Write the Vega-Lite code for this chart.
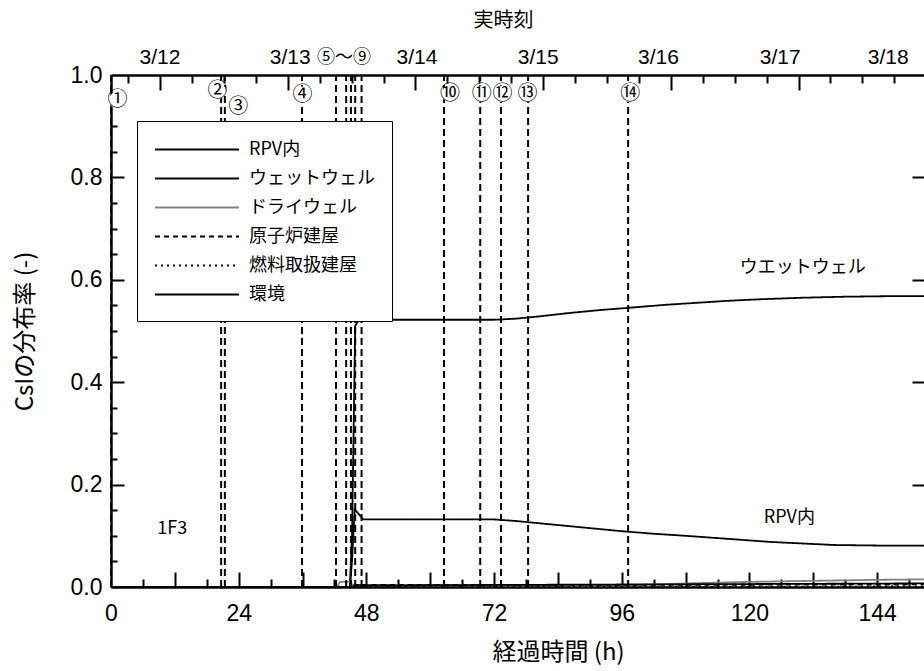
{
  "$schema": "https://vega.github.io/schema/vega-lite/v6.json",
  "width": 814,
  "height": 512,
  "autosize": "none",
  "padding": {"left": 111, "top": 75, "right": 0, "bottom": 84},
  "background": "white",
  "config": {"view": {"stroke": null}, "font": "Liberation Sans"},
  "datasets": {
    "series": [
      {"s": "RPV内", "h": 0, "v": 0}, {"s": "RPV内", "h": 44.9, "v": 0}, {"s": "RPV内", "h": 45.3, "v": 0.05}, {"s": "RPV内", "h": 45.8, "v": 0.152}, {"s": "RPV内", "h": 47.4, "v": 0.132}, {"s": "RPV内", "h": 60, "v": 0.132}, {"s": "RPV内", "h": 72, "v": 0.132}, {"s": "RPV内", "h": 76, "v": 0.129}, {"s": "RPV内", "h": 80, "v": 0.125}, {"s": "RPV内", "h": 86, "v": 0.119}, {"s": "RPV内", "h": 92, "v": 0.113}, {"s": "RPV内", "h": 96, "v": 0.109}, {"s": "RPV内", "h": 102, "v": 0.104}, {"s": "RPV内", "h": 108, "v": 0.1}, {"s": "RPV内", "h": 116, "v": 0.094}, {"s": "RPV内", "h": 124, "v": 0.088}, {"s": "RPV内", "h": 130, "v": 0.085}, {"s": "RPV内", "h": 136, "v": 0.082}, {"s": "RPV内", "h": 144, "v": 0.081}, {"s": "RPV内", "h": 153, "v": 0.081},
      {"s": "ウェットウェル", "h": 0, "v": 0}, {"s": "ウェットウェル", "h": 44.9, "v": 0}, {"s": "ウェットウェル", "h": 45.3, "v": 0.1}, {"s": "ウェットウェル", "h": 45.9, "v": 0.51}, {"s": "ウェットウェル", "h": 46.5, "v": 0.52}, {"s": "ウェットウェル", "h": 47.4, "v": 0.522}, {"s": "ウェットウェル", "h": 60, "v": 0.522}, {"s": "ウェットウェル", "h": 72, "v": 0.522}, {"s": "ウェットウェル", "h": 76, "v": 0.524}, {"s": "ウェットウェル", "h": 80, "v": 0.528}, {"s": "ウェットウェル", "h": 86, "v": 0.535}, {"s": "ウェットウェル", "h": 92, "v": 0.541}, {"s": "ウェットウェル", "h": 97, "v": 0.545}, {"s": "ウェットウェル", "h": 104, "v": 0.551}, {"s": "ウェットウェル", "h": 110, "v": 0.555}, {"s": "ウェットウェル", "h": 116, "v": 0.559}, {"s": "ウェットウェル", "h": 122, "v": 0.562}, {"s": "ウェットウェル", "h": 130, "v": 0.565}, {"s": "ウェットウェル", "h": 138, "v": 0.567}, {"s": "ウェットウェル", "h": 146, "v": 0.568}, {"s": "ウェットウェル", "h": 153, "v": 0.568},
      {"s": "ドライウェル", "h": 0, "v": 0}, {"s": "ドライウェル", "h": 42.5, "v": 0}, {"s": "ドライウェル", "h": 43, "v": 0.01}, {"s": "ドライウェル", "h": 45, "v": 0.01}, {"s": "ドライウェル", "h": 45.5, "v": 0.004}, {"s": "ドライウェル", "h": 96, "v": 0.003}, {"s": "ドライウェル", "h": 108, "v": 0.007}, {"s": "ドライウェル", "h": 120, "v": 0.01}, {"s": "ドライウェル", "h": 132, "v": 0.012}, {"s": "ドライウェル", "h": 144, "v": 0.014}, {"s": "ドライウェル", "h": 153, "v": 0.015},
      {"s": "原子炉建屋", "h": 0, "v": 0}, {"s": "原子炉建屋", "h": 45, "v": 0}, {"s": "原子炉建屋", "h": 46, "v": 0.004}, {"s": "原子炉建屋", "h": 96, "v": 0.004}, {"s": "原子炉建屋", "h": 153, "v": 0.005},
      {"s": "燃料取扱建屋", "h": 0, "v": 0}, {"s": "燃料取扱建屋", "h": 153, "v": 0.001},
      {"s": "環境", "h": 0, "v": 0}, {"s": "環境", "h": 45, "v": 0}, {"s": "環境", "h": 46, "v": 0.003}, {"s": "環境", "h": 153, "v": 0.007}
    ],
    "events": [
      {"e": "①", "h": 0}, {"e": "②", "h": 20.7}, {"e": "③", "h": 21.4}, {"e": "④", "h": 35.9},
      {"e": "⑤", "h": 42.3}, {"e": "⑥", "h": 44.2}, {"e": "⑦", "h": 45.1}, {"e": "⑧", "h": 45.9}, {"e": "⑨", "h": 47.1},
      {"e": "⑩", "h": 62.6}, {"e": "⑪", "h": 69.4}, {"e": "⑫", "h": 73.3}, {"e": "⑬", "h": 78.4}, {"e": "⑭", "h": 97.2}
    ],
    "marks": [
      {"t": "①", "h": 1.2, "v": 0.951}, {"t": "②", "h": 20.0, "v": 0.969}, {"t": "③", "h": 23.9, "v": 0.9375}, {"t": "④", "h": 36.0, "v": 0.961},
      {"t": "⑩", "h": 63.7, "v": 0.963}, {"t": "⑪", "h": 69.7, "v": 0.963}, {"t": "⑫", "h": 73.6, "v": 0.963}, {"t": "⑬", "h": 78.3, "v": 0.963}, {"t": "⑭", "h": 97.6, "v": 0.963}
    ],
    "dates": [
      {"t": "3/12", "h": 9.2}, {"t": "3/13", "h": 33.7}, {"t": "3/14", "h": 57.5}, {"t": "3/15", "h": 80.3}, {"t": "3/16", "h": 102.9}, {"t": "3/17", "h": 125.8}, {"t": "3/18", "h": 146.1}
    ],
    "notes": [
      {"t": "1F3", "h": 11.5, "v": 0.113},
      {"t": "ウエットウェル", "h": 130.0, "v": 0.623},
      {"t": "RPV内", "h": 127.5, "v": 0.135},
      {"t": "⑤～⑨", "h": 43.8, "v": 1.033}
    ]
  },
  "layer": [
    {
      "data": {"name": "series"},
      "mark": {"type": "line", "strokeWidth": 1.8},
      "encoding": {
        "x": {
          "field": "h", "type": "quantitative",
          "scale": {"domain": [0, 153], "nice": false},
          "axis": {
            "orient": "bottom",
            "values": [0, 24, 48, 72, 96, 120, 144],
            "tickSize": 0, "tickOpacity": 0, "grid": false, "domainColor": "black", "domainWidth": 2.5,
            "labelFont": "Liberation Sans", "labelFontSize": 23, "labelColor": "black", "labelPadding": 15,
            "labelFlush": false, "labelOverlap": false,
            "title": "経過時間 (h)", "titleFont": "Noto Sans CJK JP", "titleFontSize": 24, "titleFontWeight": "normal", "titleColor": "black",
            "titleX": 447, "titleY": 65, "titleBaseline": "middle", "titleAlign": "center"
          }
        },
        "y": {
          "field": "v", "type": "quantitative",
          "scale": {"domain": [0, 1], "nice": false},
          "axis": {
            "orient": "left",
            "values": [0, 0.2, 0.4, 0.6, 0.8, 1],
            "tickSize": 0, "tickOpacity": 0, "grid": false, "format": ".1f", "domainColor": "black", "domainWidth": 2.5,
            "labelFont": "Liberation Sans", "labelFontSize": 23, "labelColor": "black", "labelPadding": 9,
            "labelFlush": false, "labelOverlap": false,
            "title": "CsIの分布率 (-)", "titleFont": "Noto Sans CJK JP", "titleFontSize": 24, "titleFontWeight": "normal", "titleColor": "black",
            "titleX": -86, "titleY": 256, "titleBaseline": "middle", "titleAlign": "center", "titleAngle": 270
          }
        },
        "color": {
          "field": "s", "type": "nominal",
          "scale": {"domain": ["RPV内", "ウェットウェル", "ドライウェル", "原子炉建屋", "燃料取扱建屋", "環境"], "range": ["black", "black", "#808080", "black", "black", "black"]},
          "legend": {
            "orient": "none", "legendX": 26, "legendY": 46, "title": null,
            "symbolType": "M-1,0L7,0", "symbolSize": 441, "symbolStrokeWidth": 1.8,
            "labelFont": "Noto Sans CJK JP", "labelFontSize": 18, "labelColor": "black", "labelOffset": 72, "labelLimit": 300,
            "rowPadding": 8, "padding": 17, "strokeColor": "black", "fillColor": "white"
          }
        },
        "strokeDash": {
          "field": "s", "type": "nominal",
          "scale": {"domain": ["RPV内", "ウェットウェル", "ドライウェル", "原子炉建屋", "燃料取扱建屋", "環境"], "range": [[1, 0], [1, 0], [1, 0], [5, 4], [2, 4], [1, 0]]}
        }
      }
    },
    {
      "data": {"name": "events"},
      "mark": {"type": "rule", "color": "black", "strokeWidth": 2, "strokeDash": [7, 4]},
      "encoding": {
        "x": {
          "field": "h", "type": "quantitative",
          "scale": {"domain": [0, 153], "nice": false},
          "axis": {
            "orient": "top", "tickSize": 0, "tickOpacity": 0, "labels": false, "grid": false, "domainColor": "black", "domainWidth": 2.5,
            "title": "実時刻", "titleFont": "Noto Sans CJK JP", "titleFontSize": 20, "titleFontWeight": "normal", "titleColor": "black",
            "titleX": 392, "titleY": -55, "titleBaseline": "middle", "titleAlign": "center"
          }
        },
        "y": {"datum": 0, "type": "quantitative", "scale": {"domain": [0, 1], "nice": false}, "axis": null},
        "y2": {"datum": 1}
      }
    },
    {
      "data": {"name": "marks"},
      "mark": {"type": "point", "shape": "circle", "filled": true, "color": "white", "opacity": 1, "size": 280},
      "encoding": {
        "x": {
          "field": "h", "type": "quantitative",
          "axis": {
            "orient": "bottom", "domain": false, "labels": false, "grid": false, "titleOpacity": 0, "offset": -8, "tickSize": 8, "tickColor": "black", "tickWidth": 2,
            "values": [6, 18, 30, 42, 54, 66, 78, 90, 102, 114, 126, 138, 150]
          }
        },
        "y": {
          "field": "v", "type": "quantitative",
          "axis": {
            "orient": "left", "domain": false, "labels": false, "grid": false, "titleOpacity": 0, "offset": -6, "tickSize": 6, "tickColor": "black", "tickWidth": 2,
            "values": [0.05, 0.1, 0.15, 0.25, 0.3, 0.35, 0.45, 0.5, 0.55, 0.65, 0.7, 0.75, 0.85, 0.9, 0.95]
          }
        }
      }
    },
    {
      "data": {"name": "marks"},
      "mark": {"type": "text", "font": "Noto Sans CJK JP", "fontSize": 20, "color": "black", "align": "center", "baseline": "middle"},
      "encoding": {
        "x": {
          "field": "h", "type": "quantitative",
          "axis": {
            "orient": "bottom", "domain": false, "labels": false, "grid": false, "titleOpacity": 0, "offset": -15, "tickSize": 15, "tickColor": "black", "tickWidth": 2,
            "values": [12, 24, 36, 48, 60, 72, 84, 96, 108, 120, 132, 144]
          }
        },
        "y": {
          "field": "v", "type": "quantitative",
          "axis": {
            "orient": "left", "domain": false, "labels": false, "grid": false, "titleOpacity": 0, "offset": -13, "tickSize": 13, "tickColor": "black", "tickWidth": 2,
            "values": [0.2, 0.4, 0.6, 0.8]
          }
        },
        "text": {"field": "t"}
      }
    },
    {
      "data": {"name": "dates"},
      "mark": {"type": "text", "font": "Liberation Sans", "fontSize": 21, "color": "black", "align": "center", "baseline": "middle", "dy": -17},
      "encoding": {
        "x": {
          "field": "h", "type": "quantitative",
          "axis": {
            "orient": "top", "domain": false, "labels": false, "grid": false, "titleOpacity": 0, "offset": -8, "tickSize": 8, "tickColor": "black", "tickWidth": 2,
            "values": [3.23, 15.23, 21.23, 27.23, 39.23, 45.23, 51.23, 63.23, 69.23, 75.23, 87.23, 93.23, 99.23, 111.23, 117.23, 123.23, 135.23, 141.23, 147.23]
          }
        },
        "y": {"datum": 1, "type": "quantitative", "axis": null},
        "text": {"field": "t"}
      }
    },
    {
      "data": {"name": "notes"},
      "mark": {"type": "text", "font": "Noto Sans CJK JP", "fontSize": 18, "color": "black", "align": "center", "baseline": "middle"},
      "encoding": {
        "x": {
          "field": "h", "type": "quantitative",
          "axis": {
            "orient": "top", "domain": false, "labels": false, "grid": false, "titleOpacity": 0, "offset": -15, "tickSize": 15, "tickColor": "black", "tickWidth": 2,
            "values": [9.23, 33.23, 57.23, 81.23, 105.23, 129.23]
          }
        },
        "y": {
          "field": "v", "type": "quantitative",
          "axis": {
            "orient": "right", "domain": false, "labels": false, "grid": false, "titleOpacity": 0, "offset": -13, "tickSize": 13, "tickColor": "black", "tickWidth": 2,
            "values": [0.2, 0.4, 0.6, 0.8]
          }
        },
        "text": {"field": "t"}
      }
    }
  ],
  "resolve": {"axis": {"x": "independent", "y": "independent"}}
}
